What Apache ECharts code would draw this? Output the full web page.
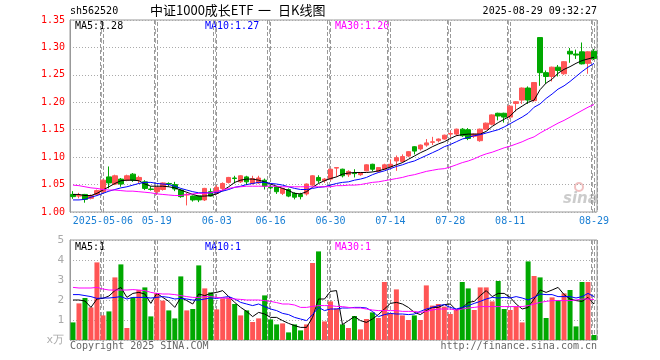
<!DOCTYPE html>
<html><head><meta charset="utf-8">
<script src="https://cdn.jsdelivr.net/npm/echarts@6/dist/echarts.min.js"></script>
<style>html,body{margin:0;padding:0;background:#fff}#c{width:660px;height:360px}</style>
</head><body><div id="c"></div>
<script>
const dates = ["2025-04-24","2025-04-25","2025-04-28","2025-04-29","2025-04-30",
"2025-05-06","2025-05-07","2025-05-08","2025-05-09","2025-05-12","2025-05-13","2025-05-14","2025-05-15","2025-05-16",
"2025-05-19","2025-05-20","2025-05-21","2025-05-22","2025-05-23","2025-05-26","2025-05-27","2025-05-28","2025-05-29","2025-05-30",
"2025-06-03","2025-06-04","2025-06-05","2025-06-06","2025-06-09","2025-06-10","2025-06-11","2025-06-12","2025-06-13",
"2025-06-16","2025-06-17","2025-06-18","2025-06-19","2025-06-20","2025-06-23","2025-06-24","2025-06-25","2025-06-26","2025-06-27",
"2025-06-30","2025-07-01","2025-07-02","2025-07-03","2025-07-04","2025-07-07","2025-07-08","2025-07-09","2025-07-10","2025-07-11",
"2025-07-14","2025-07-15","2025-07-16","2025-07-17","2025-07-18","2025-07-21","2025-07-22","2025-07-23","2025-07-24","2025-07-25",
"2025-07-28","2025-07-29","2025-07-30","2025-07-31","2025-08-01","2025-08-04","2025-08-05","2025-08-06","2025-08-07","2025-08-08",
"2025-08-11","2025-08-12","2025-08-13","2025-08-14","2025-08-15","2025-08-18","2025-08-19","2025-08-20","2025-08-21","2025-08-22",
"2025-08-25","2025-08-26","2025-08-27","2025-08-28","2025-08-29"];

const opens = [1.032,1.029,1.032,1.025,1.032,1.037,1.064,1.051,1.060,1.058,1.069,1.058,1.055,1.042,1.037,1.041,1.052,1.050,1.040,1.031,
1.029,1.029,1.022,1.037,1.034,1.043,1.054,1.062,1.055,1.064,1.052,1.053,1.058,1.045,1.046,1.034,1.041,1.034,1.032,1.033,
1.049,1.063,1.057,1.060,1.080,1.078,1.068,1.071,1.068,1.075,1.087,1.074,1.078,1.082,1.093,1.092,1.102,1.119,1.115,1.122,
1.127,1.130,1.133,1.142,1.142,1.151,1.150,1.138,1.130,1.151,1.160,1.180,1.180,1.173,1.198,1.204,1.226,1.203,1.318,1.254,
1.247,1.264,1.252,1.293,1.288,1.292,1.271,1.293];
const closes = [1.028,1.030,1.023,1.030,1.039,1.058,1.053,1.066,1.051,1.066,1.058,1.063,1.043,1.041,1.045,1.053,1.051,1.042,1.028,1.032,
1.022,1.022,1.043,1.029,1.045,1.052,1.063,1.061,1.066,1.055,1.061,1.062,1.047,1.044,1.037,1.043,1.029,1.027,1.028,1.051,
1.066,1.057,1.060,1.078,1.081,1.066,1.074,1.070,1.071,1.086,1.078,1.081,1.086,1.087,1.099,1.101,1.110,1.111,1.122,1.126,
1.128,1.133,1.140,1.143,1.151,1.139,1.134,1.142,1.151,1.162,1.177,1.175,1.173,1.193,1.201,1.226,1.204,1.236,1.254,1.247,
1.264,1.258,1.274,1.288,1.286,1.270,1.292,1.280];
const lows = [1.024,1.025,1.017,1.023,1.030,1.035,1.043,1.049,1.046,1.056,1.055,1.052,1.040,1.039,1.031,1.039,1.046,1.038,1.026,1.012,
1.019,1.018,1.020,1.028,1.032,1.040,1.052,1.052,1.053,1.049,1.050,1.051,1.041,1.041,1.033,1.031,1.027,1.023,1.023,1.030,
1.047,1.053,1.053,1.057,1.064,1.063,1.064,1.063,1.066,1.074,1.074,1.072,1.077,1.081,1.075,1.090,1.100,1.105,1.112,1.119,
1.122,1.127,1.132,1.137,1.139,1.137,1.131,1.135,1.128,1.150,1.158,1.167,1.163,1.170,1.183,1.197,1.197,1.201,1.230,1.234,
1.238,1.247,1.250,1.272,1.279,1.269,1.252,1.277];
const highs = [1.038,1.035,1.033,1.032,1.041,1.059,1.083,1.068,1.062,1.068,1.071,1.066,1.058,1.047,1.046,1.054,1.054,1.055,1.042,1.035,
1.030,1.030,1.044,1.043,1.049,1.054,1.064,1.066,1.067,1.066,1.066,1.066,1.061,1.049,1.047,1.044,1.043,1.036,1.035,1.052,
1.067,1.067,1.062,1.079,1.081,1.079,1.076,1.078,1.072,1.087,1.088,1.082,1.088,1.096,1.103,1.105,1.111,1.120,1.123,1.133,
1.137,1.134,1.141,1.148,1.152,1.153,1.153,1.143,1.152,1.163,1.178,1.181,1.181,1.195,1.202,1.227,1.229,1.237,1.318,1.258,
1.265,1.268,1.275,1.299,1.296,1.309,1.293,1.297];

const ma5 = [1.032,1.032,1.030,1.030,1.034,1.040,1.046,1.052,1.057,1.058,1.058,1.057,1.051,1.047,1.047,1.047,1.046,1.044,1.040,1.036,
1.032,1.029,1.029,1.030,1.033,1.039,1.046,1.054,1.058,1.060,1.060,1.058,1.055,1.051,1.047,1.043,1.039,1.034,1.033,1.037,
1.045,1.052,1.057,1.061,1.064,1.069,1.071,1.072,1.072,1.072,1.073,1.075,1.078,1.082,1.086,1.090,1.096,1.102,1.108,1.113,
1.119,1.124,1.128,1.134,1.139,1.141,1.142,1.142,1.142,1.147,1.156,1.163,1.169,1.175,1.186,1.193,1.200,1.204,1.223,1.235,
1.242,1.253,1.260,1.265,1.271,1.276,1.279,1.282];
const ma10 = [1.022,1.022,1.023,1.027,1.030,1.034,1.038,1.041,1.044,1.046,1.049,1.052,1.054,1.054,1.052,1.051,1.050,1.047,1.043,1.040,
1.037,1.035,1.035,1.035,1.035,1.038,1.041,1.045,1.047,1.050,1.052,1.054,1.054,1.052,1.051,1.049,1.046,1.043,1.041,1.041,
1.043,1.045,1.046,1.049,1.052,1.054,1.055,1.058,1.060,1.063,1.068,1.072,1.075,1.079,1.083,1.086,1.090,1.093,1.098,1.103,
1.108,1.113,1.119,1.123,1.128,1.133,1.136,1.139,1.141,1.144,1.147,1.150,1.155,1.161,1.167,1.173,1.180,1.191,1.197,1.207,
1.215,1.224,1.230,1.238,1.247,1.256,1.264,1.271];
const ma30 = [1.049,1.048,1.046,1.044,1.043,1.041,1.040,1.040,1.039,1.038,1.038,1.037,1.036,1.035,1.033,1.032,1.031,1.030,1.030,1.032,
1.033,1.034,1.034,1.035,1.038,1.040,1.043,1.045,1.046,1.047,1.047,1.047,1.047,1.047,1.047,1.046,1.046,1.046,1.046,1.046,
1.046,1.046,1.046,1.046,1.048,1.048,1.049,1.049,1.050,1.052,1.054,1.055,1.057,1.059,1.061,1.063,1.066,1.068,1.071,1.074,
1.076,1.078,1.079,1.082,1.086,1.090,1.093,1.097,1.102,1.106,1.109,1.113,1.117,1.120,1.124,1.128,1.133,1.137,1.144,1.150,
1.156,1.162,1.167,1.173,1.179,1.185,1.191,1.196];

const volumes = [0.88,1.83,2.10,1.63,3.88,1.23,1.43,3.13,3.78,0.60,2.13,2.50,2.63,1.18,2.35,1.97,1.48,1.08,3.18,1.48,
1.55,3.73,2.58,2.38,1.53,2.08,2.13,1.80,1.23,1.48,0.90,1.08,2.23,1.03,0.78,0.83,0.38,0.78,0.48,0.78,
3.85,4.43,0.93,1.93,1.58,0.78,0.60,1.20,0.53,1.05,1.38,1.10,2.90,1.30,2.53,1.23,1.00,1.23,1.00,2.73,
1.72,1.80,1.67,1.30,1.50,2.90,2.58,1.50,2.63,2.63,1.93,2.95,1.55,1.50,1.67,0.88,3.93,3.20,3.13,1.10,
2.13,2.00,2.33,2.50,0.68,2.90,2.90,0.25];
const vma5 = [2.00,2.00,1.95,1.63,2.05,2.08,2.20,2.47,2.63,2.13,2.33,2.38,2.30,1.83,2.33,2.13,1.93,1.63,2.13,1.97,
1.80,2.30,2.22,2.33,2.38,2.47,2.17,1.88,1.63,1.43,1.17,1.38,1.30,1.13,1.13,0.97,0.83,0.72,0.63,0.63,
1.13,2.05,2.05,2.43,2.47,0.77,0.97,1.17,0.97,0.88,1.05,1.27,1.55,1.83,1.88,1.80,1.63,1.38,1.27,1.47,
1.63,1.63,1.77,1.80,1.50,1.60,1.88,1.93,2.22,2.47,2.17,2.33,2.33,2.13,1.80,1.55,1.63,2.05,2.50,2.38,
2.50,2.63,2.27,2.05,1.97,1.93,2.13,1.80];
const vma10 = [2.27,2.27,2.22,2.17,2.08,2.10,2.10,2.13,2.17,2.05,2.13,2.13,2.13,2.10,2.13,2.17,2.13,2.05,2.08,2.05,
2.00,2.00,2.05,2.10,2.08,2.13,2.17,2.05,1.88,1.80,1.72,1.80,1.67,1.55,1.47,1.33,1.27,1.13,1.05,0.97,
1.27,1.63,1.47,1.55,1.55,1.60,1.60,1.63,1.63,1.60,1.43,1.17,1.27,1.33,1.30,1.30,1.27,1.30,1.43,1.55,
1.63,1.72,1.77,1.63,1.55,1.63,1.72,1.83,1.93,2.05,2.13,2.10,2.13,2.10,2.17,2.10,2.00,2.13,2.30,2.27,
2.27,2.17,2.17,2.17,2.10,2.17,2.33,2.17];
const vma30 = [2.63,2.60,2.60,2.60,2.63,2.55,2.50,2.50,2.50,2.50,2.52,2.50,2.47,2.38,2.33,2.30,2.30,2.27,2.22,2.17,
2.13,2.13,2.17,2.17,2.13,2.10,2.08,2.05,2.03,2.00,2.00,2.00,1.97,1.93,1.87,1.80,1.80,1.75,1.63,1.63,
1.68,1.72,1.72,1.72,1.68,1.67,1.63,1.60,1.60,1.55,1.50,1.47,1.47,1.47,1.47,1.43,1.43,1.43,1.38,1.43,
1.50,1.55,1.55,1.55,1.50,1.55,1.60,1.63,1.67,1.67,1.67,1.67,1.67,1.67,1.67,1.67,1.72,1.80,1.88,1.93,
1.97,1.97,1.97,1.97,2.00,2.05,2.05,2.02];

const labelIdx = [5,14,24,33,43,53,63,73,87];
const priceTicks = {min:1.00, max:1.35, interval:0.05};
const volTicks = {min:0, max:5, interval:1};

const UP = '#ff5555', DOWN = '#00a800';
const MONO = '"DejaVu Sans Mono", "Liberation Mono", monospace';
const showIdx = (i) => labelIdx.indexOf(i) >= 0;

const kData = dates.map((d,i)=>[opens[i], closes[i], lows[i], highs[i]]);
const volData = volumes.map((v,i)=>({value:v, itemStyle:{color: closes[i] >= opens[i] ? UP : DOWN}}));

// date gridlines as vertical dashed markLines at the labelled categories
const gridMarkLine = {
  silent:true, symbol:'none', animation:false, label:{show:false},
  lineStyle:{color:'#999999', type:'dashed', width:1, opacity:1},
  data: labelIdx.map(i => ({xAxis: i}))
};

const chart = echarts.init(document.getElementById('c'), null, {renderer:'canvas'});
const xCommon = {
  type:'category', data:dates, boundaryGap:true,
  axisLine:{show:false}, axisTick:{show:false},
  splitLine:{show:true, interval:(i)=>showIdx(i), lineStyle:{color:'#999999', type:'dashed', width:1}}
};
const texts = [
    {type:'text', left:70, top:6, style:{text:'sh562520', fill:'#000', font:'10px '+MONO}},
    {type:'text', left:150, top:4, style:{text:'中证1000成长ETF', fill:'#000', font:'13px "Noto Sans CJK SC", sans-serif'}},
    {type:'text', left:258, top:4, style:{text:'一', fill:'#000', font:'13px "Noto Sans CJK SC", sans-serif'}},
    {type:'text', left:278, top:4, style:{text:'日K线图', fill:'#000', font:'13px "Noto Sans CJK SC", sans-serif'}},
    {type:'text', right:63, top:6, style:{text:'2025-08-29 09:32:27', fill:'#000', font:'10px '+MONO}},
    {type:'text', left:75, top:21, style:{text:'MA5:'+ma5[ma5.length-1].toFixed(2), fill:'#000', font:'10px '+MONO}},
    {type:'text', left:205, top:21, style:{text:'MA10:'+ma10[ma10.length-1].toFixed(2), fill:'#0000ff', font:'10px '+MONO}},
    {type:'text', left:335, top:21, style:{text:'MA30:'+ma30[ma30.length-1].toFixed(2), fill:'#ff00ff', font:'10px '+MONO}},
    {type:'text', left:75, top:242, style:{text:'MA5:1', fill:'#000', font:'10px '+MONO}},
    {type:'text', left:205, top:242, style:{text:'MA10:1', fill:'#0000ff', font:'10px '+MONO}},
    {type:'text', left:335, top:242, style:{text:'MA30:1', fill:'#ff00ff', font:'10px '+MONO}},
    {type:'text', left:70, top:341, style:{text:'Copyright 2025 SINA.COM', fill:'#666', font:'10px '+MONO}},
    {type:'text', right:63, top:341, style:{text:'http://finance.sina.com.cn', fill:'#666', font:'10px '+MONO}},
    {type:'circle', shape:{cx:579, cy:187, r:4}, style:{fill:'none', stroke:'rgba(230,150,150,0.6)', lineWidth:2}},
    {type:'text', left:563, top:192, style:{text:'sina', fill:'rgba(170,170,170,0.6)', font:'italic bold 15px "DejaVu Sans", sans-serif'}}
];
chart.setOption({
  animation:false,
  grid:[
    {left:70, right:63, top:20, height:192, show:true, borderColor:'#999', borderWidth:1},
    {left:70, right:63, top:240, height:100, show:true, borderColor:'#999', borderWidth:1}
  ],
  xAxis:[
    Object.assign({gridIndex:0}, xCommon, {axisLabel:{show:true, interval:(i)=>showIdx(i), color:'#1a7fd4', fontFamily:MONO, fontSize:10, margin:4,
      formatter:(v,i)=> i===labelIdx[0] ? v : v.slice(5)}}),
    Object.assign({gridIndex:1}, xCommon, {axisLabel:{show:false}})
  ],
  yAxis:[
    {gridIndex:0, type:'value', min:priceTicks.min, max:priceTicks.max, interval:priceTicks.interval,
     axisLine:{show:true, lineStyle:{color:'#999'}}, axisTick:{show:false},
     axisLabel:{color:'#ff0000', fontFamily:MONO, fontSize:10, margin:5, formatter:(v)=>v.toFixed(2)},
     splitLine:{show:true, lineStyle:{color:'#aaa', type:[1,2]}}},
    {gridIndex:1, type:'value', min:volTicks.min, max:volTicks.max, interval:volTicks.interval,
     axisLine:{show:true, lineStyle:{color:'#999'}}, axisTick:{show:false},
     axisLabel:{color:'#aaa', fontFamily:MONO, fontSize:11, margin:6, formatter:(v)=> v===0 ? 'x万' : String(v)},
     splitLine:{show:true, lineStyle:{color:'#aaa', type:[1,2]}}}
  ],
  series:[
    {type:'candlestick', xAxisIndex:0, yAxisIndex:0, data:kData, barWidth:5, z:5,
     itemStyle:{color:UP, color0:DOWN, borderColor:UP, borderColor0:DOWN, borderWidth:1},
     markLine: gridMarkLine},
    {type:'line', xAxisIndex:0, yAxisIndex:0, data:ma5, symbol:'none', z:6, lineStyle:{color:'#000', width:1}},
    {type:'line', xAxisIndex:0, yAxisIndex:0, data:ma10, symbol:'none', z:6, lineStyle:{color:'#0000ff', width:1}},
    {type:'line', xAxisIndex:0, yAxisIndex:0, data:ma30, symbol:'none', z:6, lineStyle:{color:'#ff00ff', width:1}},
    {type:'bar', xAxisIndex:1, yAxisIndex:1, data:volData, barWidth:5, z:5, markLine: gridMarkLine},
    {type:'line', xAxisIndex:1, yAxisIndex:1, data:vma5, symbol:'none', z:6, lineStyle:{color:'#000', width:1}},
    {type:'line', xAxisIndex:1, yAxisIndex:1, data:vma10, symbol:'none', z:6, lineStyle:{color:'#0000ff', width:1}},
    {type:'line', xAxisIndex:1, yAxisIndex:1, data:vma30, symbol:'none', z:6, lineStyle:{color:'#ff00ff', width:1}}
  ],
  graphic: texts
});

// Also add dashed lines as graphic elements, positioned through the library's own scales.
try {
  const extra = [];
  const y0a = chart.convertToPixel({gridIndex:0}, [0, priceTicks.max])[1];
  const y0b = chart.convertToPixel({gridIndex:0}, [0, priceTicks.min])[1];
  const y1a = chart.convertToPixel({gridIndex:1}, [0, volTicks.max])[1];
  const y1b = chart.convertToPixel({gridIndex:1}, [0, volTicks.min])[1];
  labelIdx.forEach((i, k) => {
    const x = Math.round(chart.convertToPixel({gridIndex:0}, [i, priceTicks.min])[0]) - 2 + 0.5;
    [[y0a, y0b], [y1a, y1b]].forEach(([a, b], j) => {
      extra.push({type:'line', id:'vl'+k+'_'+j, silent:true, z:-1, zlevel:0,
        shape:{x1:x, y1:a, x2:x, y2:b}, style:{stroke:'#aaaaaa', lineWidth:1, lineDash:[5,4]}});
    });
  });
  if (extra.every(e => isFinite(e.shape.x1) && isFinite(e.shape.y1) && isFinite(e.shape.y2))) {
    chart.setOption({graphic: texts.concat(extra)});
  }
} catch (e) { /* keep the chart as drawn */ }
</script></body></html>
